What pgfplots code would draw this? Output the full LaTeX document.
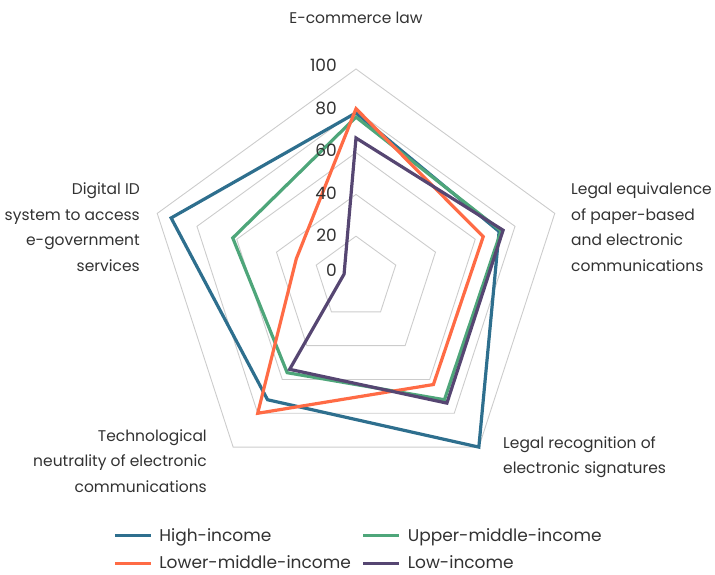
\documentclass[border=0pt]{standalone}
\usepackage{fontspec}
\setmainfont{Poppins}
\usepackage{pgfplots}
\pgfplotsset{compat=1.18}
\usepgfplotslibrary{polar}

\definecolor{hiinc}{RGB}{46,111,142}
\definecolor{umidinc}{RGB}{78,166,122}
\definecolor{lmidinc}{RGB}{255,107,69}
\definecolor{lowinc}{RGB}{86,70,114}
\definecolor{gridgray}{RGB}{204,204,204}
\definecolor{txt}{RGB}{50,50,50}

\begin{document}
\begin{tikzpicture}[font=\fontsize{15.5}{25.5}\selectfont, text=txt]
\begin{polaraxis}[
  at={(0pt,0pt)}, anchor=origin,
  scale only axis,
  width=418pt, height=418pt,
  xmin=0, xmax=360, ymin=0, ymax=100,
  hide axis,
  clip=false,
  legend columns=2,
  legend cell align=left,
  legend style={
    at={(axis description cs:-0.081,-0.094)}, anchor=north west,
    draw=none, fill=none, inner sep=0pt,
    nodes={inner xsep=1pt},
    font=\fontsize{17}{20}\selectfont, text=txt,
    row sep=9pt,
    /tikz/every odd column/.append style={column sep=6pt},
    /tikz/every even column/.append style={column sep=10pt},
  },
  legend image code/.code={\draw[#1, line width=3pt] (0pt,0pt) -- (36pt,0pt);},
]

% grid pentagons
\foreach \r in {20,40,60,80,100} {
  \edef\tmp{\noexpand\addplot[gridgray, line width=0.9pt, forget plot]
    coordinates {(90,\r) (18,\r) (306,\r) (234,\r) (162,\r)} -- cycle;}
  \tmp
}

% axes order: E-commerce (90), Legal equivalence (18), Legal recognition (306),
% Technological neutrality (234), Digital ID (162)
\addplot[hiinc, line width=3.2pt, line join=miter] coordinates
  {(90,79) (18,72) (306,100) (234,72) (162,93)} -- cycle;
\addlegendentry{High-income}
\addplot[umidinc, line width=3.2pt, line join=miter] coordinates
  {(90,77) (18,73) (306,72) (234,56) (162,62)} -- cycle;
\addlegendentry{Upper-middle-income}
\addplot[lmidinc, line width=3.2pt, line join=miter] coordinates
  {(90,81) (18,64) (306,63) (234,80) (162,30)} -- cycle;
\addlegendentry{Lower-middle-income}
\addplot[lowinc, line width=3.2pt, line join=miter] coordinates
  {(90,67) (18,74) (306,74) (234,54) (162,6)} -- cycle;
\addlegendentry{Low-income}

\end{polaraxis}

% radial tick labels
\foreach \v/\y in {100/213, 80/170, 60/128, 40/85, 20/43, 0/8} {
  \node[anchor=east, inner sep=0pt, font=\fontsize{17}{18}\selectfont] at (-19pt,\y pt) {\v};
}

% category labels
\node[inner sep=0pt] at (0pt,260pt) {E-commerce law};
\node[anchor=west, align=left, inner sep=0pt] at (215pt,51pt)
  {Legal equivalence\\of paper-based\\and electronic\\communications};
\node[anchor=west, align=left, inner sep=0pt] at (147pt,-179pt)
  {Legal recognition of\\electronic signatures};
\node[anchor=east, align=right, inner sep=0pt] at (-149pt,-183pt)
  {Technological\\neutrality of electronic\\communications};
\node[anchor=east, align=right, inner sep=0pt] at (-216pt,51pt)
  {Digital ID\\system to access\\e-government\\services};

\pgfresetboundingbox
\path (-356pt,-296pt) rectangle (359pt,278pt);
\end{tikzpicture}
\end{document}
